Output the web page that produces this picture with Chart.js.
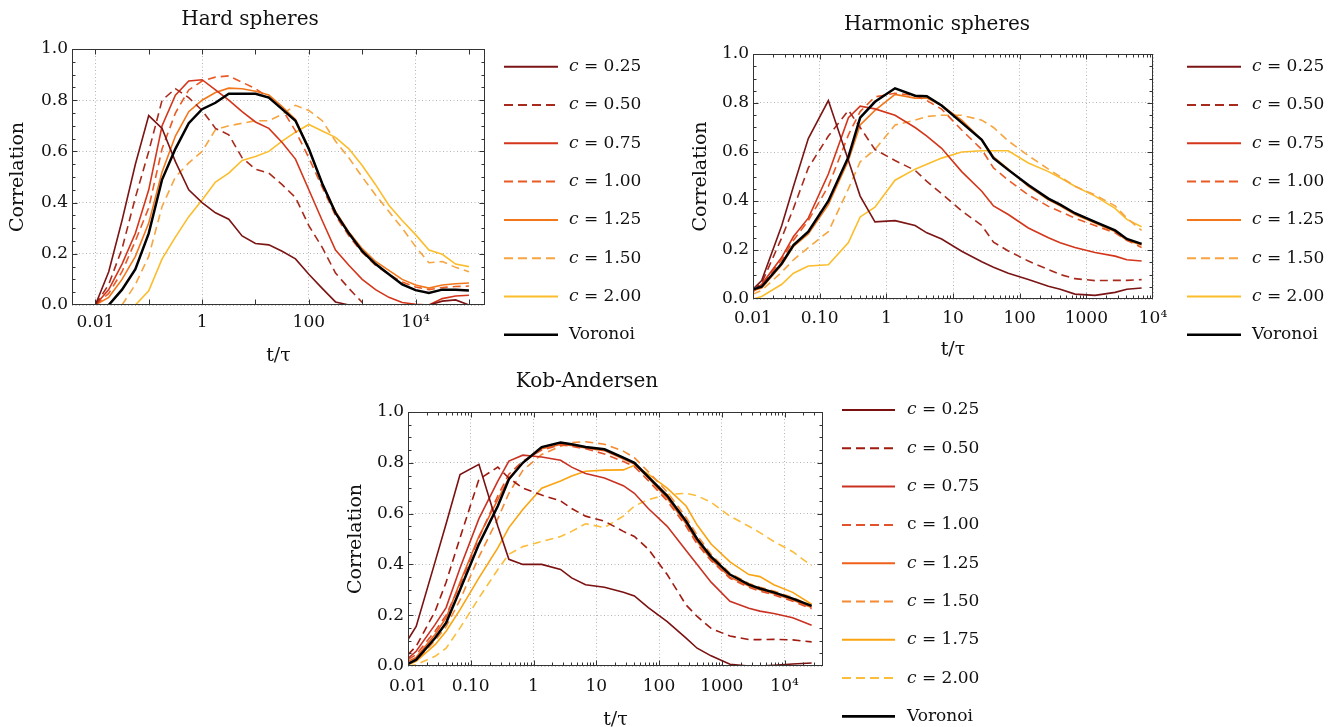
<!DOCTYPE html>
<html>
<head>
<meta charset="utf-8">
<script src="https://cdn.jsdelivr.net/npm/chart.js@4.4.1/dist/chart.umd.min.js"></script>
<style>
html,body{margin:0;padding:0;background:#fff;width:1341px;height:727px;overflow:hidden;}
canvas{position:absolute;}
#c1{left:0;top:0;}
#c2{left:680px;top:0;}
#c3{left:330px;top:365px;}
</style>
</head>
<body>
<canvas id="c1" width="680" height="372"></canvas>
<canvas id="c2" width="661" height="372"></canvas>
<canvas id="c3" width="700" height="372"></canvas>
<script>
// ---------------- DATA ----------------
// Hard spheres
const hardTimes = [0.01, 0.0178, 0.0316, 0.0562, 0.1, 0.178, 0.316, 0.562, 1, 1.78, 3.16, 5.62, 10, 17.8, 31.6, 56.2, 100, 178, 316, 562, 1000, 1780, 3160, 5620, 10000, 17800, 31600, 56200, 100000];
const hardC025 = [0, 0.13, 0.33, 0.55, 0.74, 0.69, 0.56, 0.45, 0.40, 0.36, 0.335, 0.27, 0.24, 0.235, 0.21, 0.18, 0.12, 0.065, 0.012, 0, 0, 0, 0, 0, 0, 0, 0.015, 0.02, 0];
const hardC050 = [0, 0.08, 0.22, 0.42, 0.60, 0.80, 0.845, 0.81, 0.76, 0.69, 0.665, 0.575, 0.53, 0.515, 0.47, 0.42, 0.31, 0.225, 0.125, 0.065, 0.01, null, null, null, null, null, null, null, null];
const hardC075 = [0, 0.06, 0.16, 0.28, 0.45, 0.70, 0.82, 0.875, 0.88, 0.84, 0.80, 0.755, 0.715, 0.69, 0.635, 0.57, 0.45, 0.33, 0.215, 0.155, 0.10, 0.06, 0.03, 0.01, 0.003, 0, 0.025, 0.035, 0.038];
const hardC100 = [0, 0.045, 0.13, 0.25, 0.38, 0.61, 0.75, 0.84, 0.875, 0.89, 0.895, 0.87, 0.845, 0.81, 0.765, 0.68, 0.575, 0.46, 0.35, 0.27, 0.205, 0.155, 0.12, 0.09, 0.07, 0.06, 0.068, 0.072, 0.074];
const hardC125 = [0, 0.03, 0.10, 0.19, 0.32, 0.52, 0.66, 0.755, 0.80, 0.83, 0.847, 0.845, 0.835, 0.82, 0.775, 0.725, 0.61, 0.475, 0.365, 0.285, 0.22, 0.17, 0.135, 0.10, 0.078, 0.066, 0.078, 0.083, 0.086];
const hardC150 = [null, null, 0, 0.08, 0.19, 0.385, 0.50, 0.555, 0.60, 0.685, 0.70, 0.71, 0.72, 0.72, 0.745, 0.78, 0.76, 0.72, 0.64, 0.575, 0.50, 0.43, 0.365, 0.30, 0.228, 0.165, 0.17, 0.147, 0.13];
const hardC200 = [null, null, null, 0, 0.055, 0.18, 0.265, 0.345, 0.41, 0.48, 0.515, 0.565, 0.58, 0.60, 0.64, 0.675, 0.705, 0.68, 0.655, 0.61, 0.545, 0.47, 0.39, 0.33, 0.275, 0.215, 0.198, 0.16, 0.15];
const hardVoronoi = [null, 0, 0.06, 0.14, 0.28, 0.49, 0.61, 0.71, 0.765, 0.79, 0.825, 0.825, 0.825, 0.81, 0.765, 0.72, 0.61, 0.475, 0.36, 0.28, 0.21, 0.16, 0.12, 0.08, 0.058, 0.047, 0.06, 0.06, 0.057];

// Harmonic spheres
const harmTimes = [0.01, 0.0135, 0.027, 0.0405, 0.0675, 0.135, 0.27, 0.405, 0.675, 1.35, 2.7, 4.05, 6.75, 13.5, 27, 40.5, 67.5, 135, 270, 405, 675, 1350, 2700, 4050, 6750];
const harmC025 = [0.04, 0.075, 0.30, 0.46, 0.655, 0.81, 0.565, 0.42, 0.315, 0.32, 0.30, 0.27, 0.245, 0.195, 0.152, 0.13, 0.105, 0.08, 0.052, 0.04, 0.02, 0.015, 0.027, 0.04, 0.045];
const harmC050 = [0.035, 0.065, 0.25, 0.37, 0.535, 0.665, 0.77, 0.70, 0.61, 0.565, 0.525, 0.48, 0.43, 0.36, 0.30, 0.232, 0.196, 0.155, 0.12, 0.10, 0.083, 0.075, 0.076, 0.076, 0.079];
const harmC075 = [0.035, 0.06, 0.17, 0.255, 0.33, 0.51, 0.74, 0.787, 0.776, 0.75, 0.70, 0.665, 0.615, 0.52, 0.44, 0.38, 0.345, 0.29, 0.25, 0.23, 0.21, 0.19, 0.175, 0.16, 0.155];
const harmC100 = [0.03, 0.055, 0.16, 0.24, 0.32, 0.46, 0.67, 0.765, 0.825, 0.84, 0.83, 0.81, 0.775, 0.69, 0.61, 0.535, 0.485, 0.425, 0.378, 0.357, 0.33, 0.30, 0.27, 0.24, 0.21];
const harmC125 = [0.035, 0.045, 0.14, 0.215, 0.265, 0.385, 0.565, 0.71, 0.77, 0.835, 0.82, 0.82, 0.79, 0.73, 0.65, 0.58, 0.53, 0.46, 0.405, 0.38, 0.345, 0.31, 0.275, 0.24, 0.22];
const harmC150 = [0.02, 0.035, 0.11, 0.16, 0.21, 0.275, 0.45, 0.56, 0.61, 0.71, 0.73, 0.745, 0.75, 0.75, 0.73, 0.70, 0.645, 0.585, 0.53, 0.50, 0.46, 0.425, 0.38, 0.33, 0.28];
const harmC200 = [0, 0.01, 0.06, 0.105, 0.135, 0.14, 0.23, 0.335, 0.375, 0.485, 0.53, 0.55, 0.575, 0.60, 0.605, 0.605, 0.605, 0.555, 0.52, 0.495, 0.46, 0.42, 0.37, 0.325, 0.295];
const harmVoronoi = [0.04, 0.05, 0.145, 0.22, 0.275, 0.40, 0.58, 0.74, 0.805, 0.86, 0.83, 0.828, 0.79, 0.72, 0.65, 0.575, 0.527, 0.465, 0.41, 0.385, 0.35, 0.315, 0.28, 0.245, 0.225];

// Kob-Andersen
const kaTimes = [0.01, 0.0135, 0.027, 0.0405, 0.0675, 0.135, 0.27, 0.405, 0.675, 1.35, 2.7, 4.05, 6.75, 13.5, 27, 40.5, 67.5, 135, 270, 405, 675, 1350, 2700, 4050, 6750, 13500, 27000];
const kaC025 = [0.104, 0.156, 0.41, 0.56, 0.754, 0.794, 0.55, 0.42, 0.40, 0.40, 0.38, 0.347, 0.32, 0.31, 0.29, 0.276, 0.23, 0.175, 0.11, 0.07, 0.04, 0.007, 0, 0, 0.003, 0.008, 0.012];
const kaC050 = [0.045, 0.078, 0.215, 0.33, 0.505, 0.735, 0.783, 0.74, 0.70, 0.673, 0.65, 0.62, 0.59, 0.57, 0.53, 0.51, 0.46, 0.36, 0.24, 0.195, 0.148, 0.118, 0.104, 0.104, 0.105, 0.103, 0.095];
const kaC075 = [0.03, 0.058, 0.163, 0.23, 0.386, 0.58, 0.728, 0.807, 0.83, 0.823, 0.81, 0.783, 0.758, 0.74, 0.71, 0.68, 0.62, 0.55, 0.455, 0.40, 0.33, 0.255, 0.227, 0.216, 0.207, 0.19, 0.16];
const kaC100 = [0.025, 0.045, 0.137, 0.20, 0.32, 0.505, 0.67, 0.755, 0.807, 0.85, 0.87, 0.865, 0.855, 0.835, 0.805, 0.785, 0.73, 0.65, 0.55, 0.48, 0.415, 0.345, 0.31, 0.295, 0.28, 0.255, 0.225];
const kaC125 = [0.018, 0.034, 0.124, 0.19, 0.33, 0.51, 0.655, 0.74, 0.80, 0.855, 0.872, 0.868, 0.858, 0.848, 0.815, 0.795, 0.74, 0.66, 0.56, 0.49, 0.42, 0.35, 0.315, 0.30, 0.285, 0.26, 0.23];
const kaC150 = [0.01, 0.02, 0.10, 0.155, 0.26, 0.43, 0.58, 0.68, 0.77, 0.833, 0.865, 0.88, 0.883, 0.873, 0.846, 0.82, 0.765, 0.685, 0.585, 0.515, 0.44, 0.365, 0.325, 0.31, 0.295, 0.27, 0.235];
const kaC175 = [0.005, 0.018, 0.084, 0.137, 0.222, 0.347, 0.465, 0.545, 0.616, 0.70, 0.728, 0.748, 0.767, 0.771, 0.772, 0.79, 0.755, 0.70, 0.63, 0.555, 0.48, 0.41, 0.36, 0.352, 0.32, 0.29, 0.243];
const kaC200 = [0, 0.005, 0.038, 0.07, 0.15, 0.268, 0.38, 0.44, 0.47, 0.49, 0.51, 0.53, 0.56, 0.545, 0.59, 0.63, 0.655, 0.675, 0.68, 0.67, 0.645, 0.59, 0.55, 0.525, 0.49, 0.45, 0.395];
const kaVoronoi = [0.008, 0.025, 0.11, 0.17, 0.30, 0.48, 0.63, 0.735, 0.80, 0.862, 0.88, 0.873, 0.862, 0.853, 0.82, 0.80, 0.745, 0.67, 0.57, 0.50, 0.43, 0.36, 0.32, 0.305, 0.29, 0.265, 0.237];

// Tick labels
const yTicks = [0, 0.2, 0.4, 0.6, 0.8, 1.0];
const yTickLabels = ['0.0', '0.2', '0.4', '0.6', '0.8', '1.0'];
const hardXTicks = [0.01, 1, 100, 10000];
const hardXTickLabels = ['0.01', '1', '100', '10⁴'];
const decadeXTicks = [0.01, 0.1, 1, 10, 100, 1000, 10000];
const decadeXTickLabels = ['0.01', '0.10', '1', '10', '100', '1000', '10⁴'];

// ---------------- STYLE / LAYOUT ----------------
const FONT = '"DejaVu Serif", "Liberation Serif", serif';
Chart.defaults.font.family = FONT;
Chart.defaults.color = '#111';

const framePlugin = {
  id: 'frame',
  afterDatasetsDraw(chart, args, o) {
    const ctx = chart.ctx, a = chart.chartArea;
    const xs = chart.scales.x, ys = chart.scales.y;
    const L = Math.round(a.left) + 0.5, R = Math.round(a.right) - 0.5;
    const T = Math.round(a.top) + 0.5, B = Math.round(a.bottom) - 0.5;
    ctx.save();
    ctx.setLineDash([]);
    ctx.strokeStyle = '#333';
    ctx.lineWidth = 1;
    ctx.beginPath();
    const tx = (v, len) => {
      const p = Math.round(xs.getPixelForValue(v)) + 0.5;
      ctx.moveTo(p, B); ctx.lineTo(p, B - len);
      ctx.moveTo(p, T); ctx.lineTo(p, T + len);
    };
    const lo = Math.floor(Math.log10(xs.min)), hi = Math.ceil(Math.log10(xs.max));
    for (let d = lo; d <= hi; d++) {
      const base = Math.pow(10, d);
      if (base > xs.min * 1.001 && base < xs.max * 0.999) tx(base, 5);
      if (o.minor) {
        for (let m = 2; m < 10; m++) {
          const v = m * base;
          if (v > xs.min && v < xs.max) tx(v, 3);
        }
      }
    }
    for (let i = 1; i < 20; i++) {
      const p = Math.round(ys.getPixelForValue(i * 0.05)) + 0.5;
      const len = (i % 4 === 0) ? 5 : 3;
      ctx.moveTo(L, p); ctx.lineTo(L + len, p);
      ctx.moveTo(R, p); ctx.lineTo(R - len, p);
    }
    ctx.stroke();
    ctx.strokeRect(L, T, R - L, B - T);
    ctx.restore();
  }
};

const legendPlugin = {
  id: 'sideLegend',
  afterDraw(chart, args, o) {
    const ctx = chart.ctx;
    ctx.save();
    ctx.textBaseline = 'middle';
    ctx.textAlign = 'left';
    chart.data.datasets.forEach((ds, i) => {
      const y = o.y0 + i * o.step;
      ctx.beginPath();
      ctx.strokeStyle = ds.borderColor;
      ctx.lineWidth = ds.legendWidth;
      ctx.setLineDash(ds.borderDash && ds.borderDash.length ? [9, 5] : []);
      ctx.moveTo(o.x0, y); ctx.lineTo(o.x0 + o.len, y);
      ctx.stroke();
      ctx.setLineDash([]);
      ctx.fillStyle = '#111';
      let x = o.tx;
      const m = /^c = (.*)$/.exec(ds.label);
      if (m) {
        ctx.font = (ds.legendItalic ? 'italic ' : '') + '17px ' + FONT;
        ctx.fillText('c', x, y);
        x += ctx.measureText('c').width;
        ctx.font = '17px ' + FONT;
        ctx.fillText(' = ' + m[1], x, y);
      } else {
        ctx.font = '17px ' + FONT;
        ctx.fillText(ds.label, x, y);
      }
    });
    ctx.restore();
  }
};

function buildChart(id, p) {
  const datasets = p.series.map(s => ({
    label: s.label,
    data: p.times.map((t, j) => ({ x: t, y: s.values[j] })),
    borderColor: s.color,
    backgroundColor: s.color,
    borderWidth: s.black ? 2.5 : 1.6,
    legendWidth: s.black ? 2.6 : 2,
    borderDash: s.dashed ? [8, 5] : [],
    legendItalic: s.italic !== false,
    pointRadius: 0,
    pointHoverRadius: 0,
    fill: false,
    tension: 0,
    spanGaps: false,
    order: s.black ? 0 : 1
  }));
  return new Chart(document.getElementById(id), {
    type: 'line',
    data: { datasets },
    options: {
      responsive: false,
      animation: false,
      events: [],
      layout: { padding: { left: p.padL, right: p.padR, top: 0, bottom: 0 } },
      plugins: {
        legend: { display: false },
        tooltip: { enabled: false },
        title: {
          display: true, text: p.title, color: '#111', fullSize: true,
          font: { size: 20, weight: 'normal' },
          padding: { top: p.titleTop, bottom: p.titleBottom }
        },
        frame: { minor: p.minor },
        sideLegend: p.legend
      },
      scales: {
        x: {
          type: 'logarithmic', min: p.xMin, max: p.xMax,
          afterFit: s => { s.height = p.xH; },
          afterBuildTicks: s => { s.ticks = p.xTicks.map(v => ({ value: v })); },
          ticks: {
            autoSkip: false, maxRotation: 0, minRotation: 0, padding: p.xPad,
            font: { size: 17 }, color: '#111',
            callback: (v, i) => p.xLabels[i]
          },
          grid: { color: '#b4b4b4', lineWidth: 1, drawTicks: false },
          border: { display: false, dash: [1, 2.5] },
          title: { display: true, text: 't/τ', font: { size: 19 }, color: '#111', padding: { top: 0, bottom: p.xTitleBottom } }
        },
        y: {
          type: 'linear', min: 0, max: 1,
          afterFit: s => { s.width = p.yW; },
          afterBuildTicks: s => { s.ticks = yTicks.map(v => ({ value: v })); },
          ticks: {
            padding: 4, font: { size: 17 }, color: '#111',
            callback: (v, i) => yTickLabels[i]
          },
          grid: { color: '#b4b4b4', lineWidth: 1, drawTicks: false },
          border: { display: false, dash: [1, 2.5] },
          title: { display: true, text: 'Correlation', font: { size: 19 }, color: '#111', padding: { top: 7.1, bottom: 0 } }
        },
        yPad: {
          type: 'linear', axis: 'y', position: 'right', display: true,
          afterFit: s => { s.width = p.padBox; },
          ticks: { display: false },
          grid: { display: false, drawTicks: false },
          border: { display: false }
        }
      }
    },
    plugins: [framePlugin, legendPlugin]
  });
}

const colA = ['#7b1414', '#a82a1c', '#d3361a', '#ea5a25', '#f2771a', '#f7a541', '#fcbd2c', '#000000'];
const colC = ['#7b1010', '#a01a10', '#c93222', '#e3532b', '#f0601a', '#f58a33', '#fba412', '#fbbd3a', '#000000'];

buildChart('c1', {
  title: 'Hard spheres', times: hardTimes,
  series: [
    { label: 'c = 0.25', values: hardC025, color: colA[0] },
    { label: 'c = 0.50', values: hardC050, color: colA[1], dashed: true },
    { label: 'c = 0.75', values: hardC075, color: colA[2] },
    { label: 'c = 1.00', values: hardC100, color: colA[3], dashed: true },
    { label: 'c = 1.25', values: hardC125, color: colA[4] },
    { label: 'c = 1.50', values: hardC150, color: colA[5], dashed: true },
    { label: 'c = 2.00', values: hardC200, color: colA[6] },
    { label: 'Voronoi', values: hardVoronoi, color: colA[7], black: true }
  ],
  xMin: 0.00365, xMax: 2e5, xTicks: hardXTicks, xLabels: hardXTickLabels, minor: false,
  padL: 0, padR: 180, padBox: 15, yW: 72, xH: 67,
  titleTop: 7.5, titleBottom: 17.5, xPad: 7, xTitleBottom: 4.6,
  legend: { x0: 504, len: 54, tx: 569, y0: 66.7, step: 38.3 }
});

buildChart('c2', {
  title: 'Harmonic spheres', times: harmTimes,
  series: [
    { label: 'c = 0.25', values: harmC025, color: colA[0] },
    { label: 'c = 0.50', values: harmC050, color: colA[1], dashed: true },
    { label: 'c = 0.75', values: harmC075, color: colA[2] },
    { label: 'c = 1.00', values: harmC100, color: colA[3], dashed: true },
    { label: 'c = 1.25', values: harmC125, color: colA[4] },
    { label: 'c = 1.50', values: harmC150, color: colA[5], dashed: true },
    { label: 'c = 2.00', values: harmC200, color: colA[6] },
    { label: 'Voronoi', values: harmVoronoi, color: colA[7], black: true }
  ],
  xMin: 0.01, xMax: 1e4, xTicks: decadeXTicks, xLabels: decadeXTickLabels, minor: true,
  padL: 3, padR: 150, padBox: 38, yW: 70, xH: 73,
  titleTop: 12.5, titleBottom: 17.5, xPad: 9, xTitleBottom: 10.6,
  legend: { x0: 507, len: 54, tx: 572, y0: 66.7, step: 38.3 }
});

buildChart('c3', {
  title: 'Kob-Andersen', times: kaTimes,
  series: [
    { label: 'c = 0.25', values: kaC025, color: colC[0] },
    { label: 'c = 0.50', values: kaC050, color: colC[1], dashed: true },
    { label: 'c = 0.75', values: kaC075, color: colC[2] },
    { label: 'c = 1.00', values: kaC100, color: colC[3], dashed: true, italic: false },
    { label: 'c = 1.25', values: kaC125, color: colC[4] },
    { label: 'c = 1.50', values: kaC150, color: colC[5], dashed: true },
    { label: 'c = 1.75', values: kaC175, color: colC[6] },
    { label: 'c = 2.00', values: kaC200, color: colC[7], dashed: true },
    { label: 'Voronoi', values: kaVoronoi, color: colC[8], black: true }
  ],
  xMin: 0.01, xMax: 4.1e4, xTicks: decadeXTicks, xLabels: decadeXTickLabels, minor: true,
  padL: 8, padR: 194, padBox: 13, yW: 70, xH: 71,
  titleTop: 5, titleBottom: 18, xPad: 10, xTitleBottom: 5.6,
  legend: { x0: 512, len: 53, tx: 577, y0: 45, step: 38.3 }
});
</script>
</body>
</html>
